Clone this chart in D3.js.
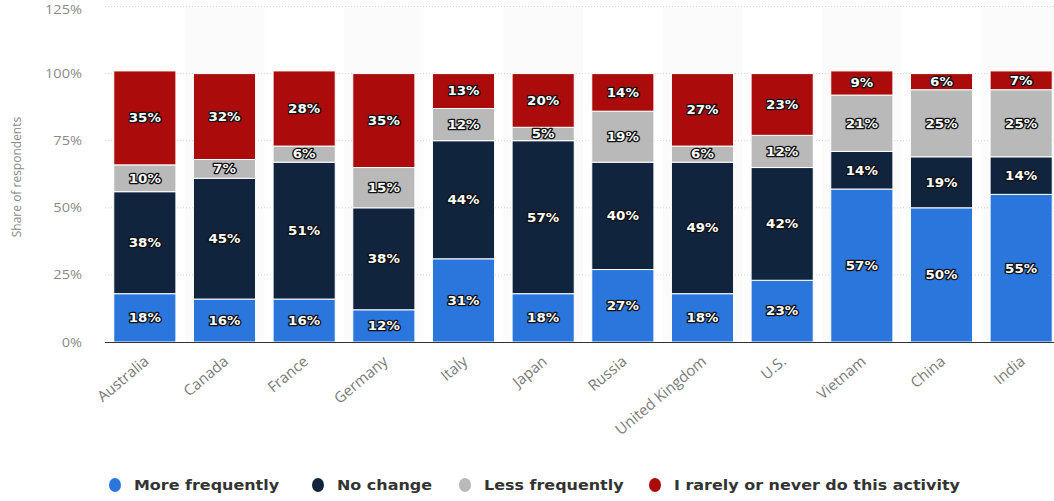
<!DOCTYPE html>
<html><head><meta charset="utf-8">
<script src="https://cdn.jsdelivr.net/npm/d3@7"></script>
<style>body{margin:0;background:#fff;}svg{display:block;}</style>
</head><body>
<svg id="c" width="1054" height="501"></svg>
<script>
const countries = ["Australia","Canada","France","Germany","Italy","Japan","Russia","United Kingdom","U.S.","Vietnam","China","India"];
const moreFrequently = [18,16,16,12,31,18,27,18,23,57,50,55];
const noChange       = [38,45,51,38,44,57,40,49,42,14,19,14];
const lessFrequently = [10,7,6,15,12,5,19,6,12,21,25,25];
const rarelyNever    = [35,32,28,35,13,20,14,27,23,9,6,7];
const seriesNames = ["More frequently","No change","Less frequently","I rarely or never do this activity"];
const seriesColors = ["#2a76dc","#10243e","#b9b9b9","#ab0b0b"];
const yTicks = [0,25,50,75,100,125];

const svg = d3.select("#c");
const left = 105, right = 1061, top0 = 342 - 125*2.684, bottom = 342;
const x = d3.scaleBand().domain(countries).range([left, right]).paddingInner(0.22).paddingOuter(0.11);
const y = d3.scaleLinear().domain([0,125]).range([bottom, top0]);

// alternating column bands
const step = x.step();
svg.append("g").selectAll("rect").data(countries.filter((d,i)=>i%2===1)).join("rect")
  .attr("x", d => x(d) - step*x.paddingInner()/2)
  .attr("y", y(125)).attr("width", step).attr("height", bottom - y(125))
  .attr("fill", "#fbfbfb");

// grid
svg.append("g").selectAll("line").data(yTicks.filter(d=>d>0)).join("line")
  .attr("x1", left).attr("x2", 1054).attr("y1", d=>y(d)).attr("y2", d=>y(d))
  .attr("stroke", "#d4d4d4").attr("stroke-dasharray","1,2");

// y tick labels
svg.append("g").selectAll("text").data(yTicks).join("text")
  .attr("transform", d=>`translate(82,${Math.max(y(d),9)}) scale(1.12,1)`)
  .attr("dy","0.35em").attr("text-anchor","end")
  .attr("font-family","Open Sans, sans-serif").attr("font-size",13).attr("fill","#8a8a8a")
  .text(d=>d+"%");

svg.append("text").attr("transform","translate(21,177) rotate(-90)").attr("text-anchor","middle")
  .attr("font-family","Open Sans, sans-serif").attr("font-size",12).attr("fill","#8a8a8a")
  .text("Share of respondents");

// stacked data
const table = countries.map((c,i)=>({country:c, s0:moreFrequently[i], s1:noChange[i], s2:lessFrequently[i], s3:rarelyNever[i]}));
const stack = d3.stack().keys(["s0","s1","s2","s3"])(table);

const g = svg.append("g");
stack.forEach((layer, k) => {
  g.append("g").selectAll("rect").data(layer).join("rect")
    .attr("x", d=>x(d.data.country)).attr("width", x.bandwidth())
    .attr("y", d=>y(d[1])).attr("height", d=>y(d[0])-y(d[1]))
    .attr("fill", seriesColors[k]).attr("stroke","#fff").attr("stroke-width",1);
});
stack.forEach((layer, k) => {
  g.append("g").selectAll("text").data(layer).join("text")
    .attr("transform", d=>`translate(${x(d.data.country)+x.bandwidth()/2},${(y(d[0])+y(d[1]))/2}) scale(1.12,1)`)
    .attr("dy","0.36em")
    .attr("text-anchor","middle")
    .attr("font-family","DejaVu Sans, sans-serif").attr("font-weight","bold").attr("font-size",12)
    .attr("fill","#fff").attr("stroke","#111").attr("stroke-width",2.5).attr("paint-order","stroke")
    .attr("stroke-linejoin","round")
    .text(d=>(d[1]-d[0])+"%");
});

// axis line
svg.append("line").attr("x1",left).attr("x2",1054).attr("y1",bottom+0.5).attr("y2",bottom+0.5)
  .attr("stroke","#333").attr("stroke-width",1);

// x labels
svg.append("g").selectAll("text").data(countries).join("text")
  .attr("transform", d=>`translate(${x(d)+x.bandwidth()/2+5},${bottom+21}) rotate(-40)`)
  .attr("text-anchor","end")
  .attr("font-family","Open Sans, sans-serif").attr("font-size",15).attr("fill","#7a7a7a")
  .text(d=>d);

// legend
const legX = [115, 318, 465, 655];
const leg = svg.append("g").selectAll("g").data(seriesNames).join("g")
  .attr("transform",(d,i)=>`translate(${legX[i]},485)`);
leg.append("ellipse").attr("rx",6).attr("ry",7).attr("fill",(d,i)=>seriesColors[i]);
leg.append("text").attr("transform","translate(19,0) scale(1.14,1)").attr("dy","0.35em")
  .attr("font-family","DejaVu Sans, sans-serif").attr("font-weight","bold").attr("font-size",14).attr("fill","#333")
  .text(d=>d);
</script>
</body></html>
